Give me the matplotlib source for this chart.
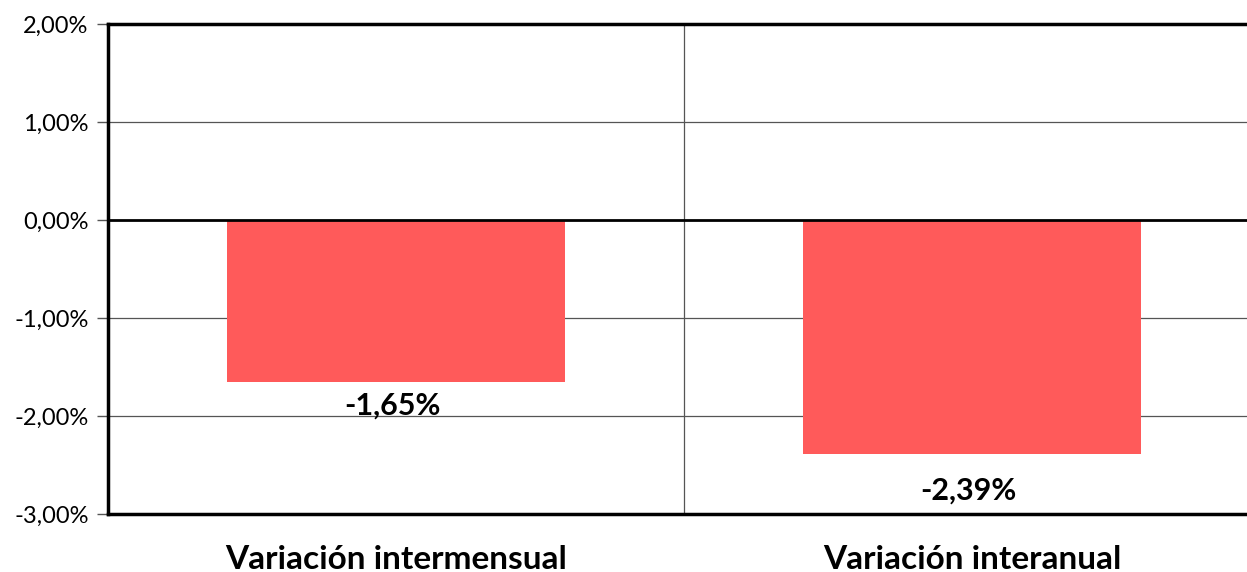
import matplotlib
matplotlib.use("Agg")
import matplotlib.pyplot as plt
from matplotlib.ticker import FuncFormatter

plt.rcParams["font.family"] = ["Lato", "DejaVu Sans"]

categories = ["Variación intermensual", "Variación interanual"]
values = [-1.65, -2.39]
label_offsets = [-24, -36]

fig = plt.figure(figsize=(12.47, 5.72), dpi=100)
W, H = 1247, 572
ax = fig.add_axes([108 / W, 1 - 514 / H, (1260 - 108) / W, (514 - 24) / H])

x = list(range(len(categories)))
ax.bar(x, values, width=0.587, color="#FF5A5A", zorder=3)

ax.set_xlim(-0.5, 1.5)
ax.set_ylim(-3, 2)
ax.set_yticks([-3, -2, -1, 0, 1, 2])
ax.yaxis.set_major_formatter(FuncFormatter(lambda v, p: f"{v:.2f}".replace(".", ",") + "%"))
ax.tick_params(axis="y", labelsize=17, length=8, width=1, color="#555555", pad=6)

ax.set_xticks(x)
ax.set_xticklabels(categories, fontsize=24, fontweight="bold")
ax.tick_params(axis="x", length=0, pad=22)

for yv in [-2, -1, 1]:
    ax.axhline(yv, color="#555555", lw=0.9, zorder=1)
ax.axhline(0, color="black", lw=2, zorder=4)
ax.axvline(0.5, color="#555555", lw=0.9, zorder=1)

ax.spines["right"].set_visible(False)
for s in ["left", "bottom", "top"]:
    ax.spines[s].set_linewidth(2.5)
    ax.spines[s].set_color("black")

for xi, v, off in zip(x, values, label_offsets):
    ax.annotate(f"{v:.2f}".replace(".", ",") + "%", (xi, v), xytext=(-4, off),
                textcoords="offset pixels", ha="center", va="center",
                fontsize=22, fontweight="bold")

fig.savefig("out.png", dpi=100)
